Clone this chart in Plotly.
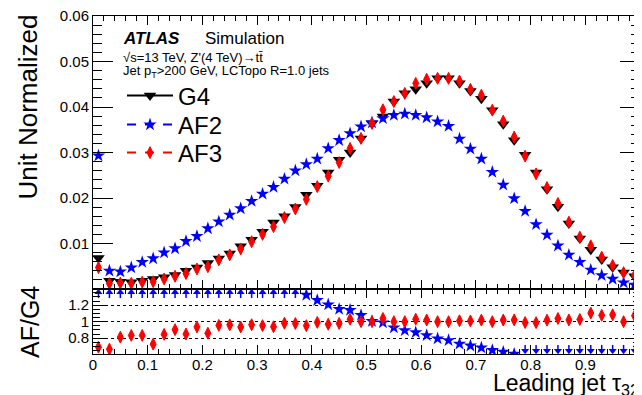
import numpy as np
import plotly.graph_objects as go

# ---------------- data ----------------
TAU32 = [0.01, 0.03, 0.05, 0.07, 0.09, 0.11, 0.13, 0.15, 0.17, 0.19,
         0.21, 0.23, 0.25, 0.27, 0.29, 0.31, 0.33, 0.35, 0.37, 0.39,
         0.41, 0.43, 0.45, 0.47, 0.49, 0.51, 0.53, 0.55, 0.57, 0.59,
         0.61, 0.63, 0.65, 0.67, 0.69, 0.71, 0.73, 0.75, 0.77, 0.79,
         0.81, 0.83, 0.85, 0.87, 0.89, 0.91, 0.93, 0.95, 0.97, 0.99]

G4 = [0.0068, 0.0018, 0.0016, 0.0015, 0.0018, 0.0022, 0.0026, 0.0031, 0.0040, 0.0047,
      0.0057, 0.0067, 0.0078, 0.0094, 0.0108, 0.0126, 0.0146, 0.0160, 0.0180, 0.0207,
      0.0227, 0.0256, 0.0284, 0.0300, 0.0331, 0.0364, 0.0379, 0.0412, 0.0430, 0.0439,
      0.0452, 0.0463, 0.0463, 0.0452, 0.0435, 0.0418, 0.0393, 0.0362, 0.0327, 0.0295,
      0.0256, 0.0219, 0.0181, 0.0144, 0.0111, 0.0086, 0.0065, 0.0048, 0.0036, 0.0028]

AF2 = [0.0293, 0.0040, 0.0038, 0.0047, 0.0059, 0.0067, 0.0080, 0.0089, 0.0105, 0.0116,
       0.0133, 0.0148, 0.0163, 0.0177, 0.0193, 0.0209, 0.0224, 0.0242, 0.0260, 0.0274,
       0.0286, 0.0309, 0.0327, 0.0342, 0.0357, 0.0366, 0.0375, 0.0382, 0.0385, 0.0382,
       0.0377, 0.0368, 0.0358, 0.0330, 0.0308, 0.0286, 0.0257, 0.0229, 0.0199, 0.0171,
       0.0142, 0.0119, 0.0095, 0.0075, 0.0059, 0.0042, 0.0030, 0.0022, 0.0014, 0.0009]

AF3 = [0.0047, 0.0012, 0.0013, 0.00125, 0.0015, 0.0016, 0.0022, 0.0028, 0.0034, 0.0044,
       0.0049, 0.0064, 0.0075, 0.0088, 0.0104, 0.0120, 0.0137, 0.0157, 0.0176, 0.0197,
       0.0225, 0.0248, 0.0278, 0.0309, 0.0331, 0.0364, 0.0394, 0.0412, 0.0430, 0.0452,
       0.0461, 0.0463, 0.0463, 0.0457, 0.0439, 0.0426, 0.0393, 0.0369, 0.0334, 0.0292,
       0.0253, 0.0223, 0.0188, 0.0147, 0.0114, 0.0095, 0.0070, 0.0052, 0.0036, 0.0030]

Y_TICKS = [0.01, 0.02, 0.03, 0.04, 0.05, 0.06]
Y_TICK_TEXT = ["0.01", "0.02", "0.03", "0.04", "0.05", "0.06"]
R_TICKS = [0.8, 1.0, 1.2]
R_TICK_TEXT = ["0.8", "1", "1.2"]
X_TICKS = [0, 0.1, 0.2, 0.3, 0.4, 0.5, 0.6, 0.7, 0.8, 0.9, 1.0]
X_TICK_TEXT = ["0", "0.1", "0.2", "0.3", "0.4", "0.5", "0.6", "0.7", "0.8", "0.9", "1"]

# ---------------- geometry helpers ----------------
# The page body has an 8px margin, so the figure is drawn 8px right/down.
OFF = 8
W, H = 642 - OFF, 395 - OFF
L, T = 93 - OFF, 16 - OFF           # plot area left/top in screen px 93 / 16
R = W - (640 - OFF)                  # plot area right at screen px 640
B = H - (354 - OFF)                  # plot area bottom at screen px 354
PW, PH = W - L - R, H - T - B


def px(xs):
    return (xs - OFF - L) / PW


def py(ys):
    return (H - B - (ys - OFF)) / PH


SPLIT = py(289)
R_RANGE = [0.608, 1.396]
FONT = "Liberation Sans, Arial, Helvetica, sans-serif"

x = np.array(TAU32)
g4 = np.array(G4)
af2 = np.array(AF2)
af3 = np.array(AF3)
r2 = af2 / g4
r3 = af3 / g4

BLACK, BLUE, RED = "#000000", "#0000ff", "#ff0000"
MK_G4 = dict(symbol="triangle-down", size=11, color=BLACK)
MK_AF2 = dict(symbol="star", size=10, color=BLUE)
MK_AF3 = dict(symbol="diamond-tall", size=8.5, color=RED, line=dict(color=RED, width=1))

fig = go.Figure()

# upper panel
fig.add_trace(go.Scatter(x=x, y=g4, mode="markers", showlegend=False, marker=MK_G4,
                         xaxis="x", yaxis="y"))
fig.add_trace(go.Scatter(x=x, y=af2, mode="markers", showlegend=False, marker=MK_AF2,
                         xaxis="x", yaxis="y"))
fig.add_trace(go.Scatter(x=x, y=af3, mode="markers", showlegend=False, marker=MK_AF3,
                         xaxis="x", yaxis="y"))

# legend entries (one legend each, to place them like the reference)
fig.add_trace(go.Scatter(x=[None], y=[None], mode="lines+markers", name="G4",
                         line=dict(color=BLACK, width=2), legend="legend", marker=MK_G4))
fig.add_trace(go.Scatter(x=[None], y=[None], mode="lines+markers", name="AF2",
                         line=dict(color=BLUE, width=2, dash="dash"), legend="legend2",
                         marker=MK_AF2))
fig.add_trace(go.Scatter(x=[None], y=[None], mode="lines+markers", name="AF3",
                         line=dict(color=RED, width=2, dash="dash"), legend="legend3",
                         marker=MK_AF3))

# ratio panel
top_arrow_y = R_RANGE[1] - 0.04
bot_arrow_y = R_RANGE[0] + 0.04
inr = (r2 <= R_RANGE[1]) & (r2 >= R_RANGE[0])
hi = r2 > R_RANGE[1]
lo = r2 < R_RANGE[0]
fig.add_trace(go.Scatter(x=x[inr], y=r2[inr], mode="markers", showlegend=False,
                         marker=MK_AF2, xaxis="x2", yaxis="y2"))
fig.add_trace(go.Scatter(x=x[hi], y=np.full(hi.sum(), top_arrow_y), mode="markers",
                         showlegend=False,
                         marker=dict(symbol="triangle-up", size=7, color=BLUE),
                         error_y=dict(type="constant", symmetric=False, value=0,
                                      valueminus=0.07, width=0, thickness=1.5, color=BLUE),
                         xaxis="x2", yaxis="y2"))
fig.add_trace(go.Scatter(x=x[lo], y=np.full(lo.sum(), bot_arrow_y), mode="markers",
                         showlegend=False,
                         marker=dict(symbol="triangle-down", size=7, color=BLUE),
                         error_y=dict(type="constant", symmetric=False, value=0.07,
                                      valueminus=0, width=0, thickness=1.5, color=BLUE),
                         xaxis="x2", yaxis="y2"))
fig.add_trace(go.Scatter(x=x, y=r3, mode="markers", showlegend=False,
                         marker=MK_AF3, xaxis="x2", yaxis="y2"))

axis_common = dict(showline=True, linecolor="black", linewidth=1, mirror="allticks",
                   ticks="inside", tickcolor="black", zeroline=False, showgrid=False,
                   automargin=False, ticklabeloverflow="allow",
                   tickfont=dict(family=FONT, size=15, color="black"))

legend_common = dict(xanchor="left", yanchor="middle", bgcolor="rgba(0,0,0,0)",
                     font=dict(family=FONT, size=24, color="black"), itemwidth=46)

fig.update_layout(
    width=W, height=H,
    margin=dict(l=L, r=R, t=T, b=B, autoexpand=False),
    paper_bgcolor="white", plot_bgcolor="white",
    font=dict(family=FONT, color="black"),
    xaxis=dict(domain=[0, 1], anchor="y", range=[0, 1], matches="x2",
               showticklabels=False, tickvals=X_TICKS, ticklen=9,
               minor=dict(ticks="inside", dtick=0.02, tick0=0, ticklen=5, tickcolor="black"),
               **axis_common),
    yaxis=dict(domain=[SPLIT, 1], anchor="x", range=[0, 0.06],
               tickvals=Y_TICKS, ticktext=Y_TICK_TEXT, ticklen=20,
               minor=dict(ticks="inside", dtick=0.002, tick0=0, ticklen=9, tickcolor="black"),
               **axis_common),
    xaxis2=dict(domain=[0, 1], anchor="y2", range=[0, 1],
                tickvals=X_TICKS, ticktext=X_TICK_TEXT, ticklen=9,
                ticklabelstandoff=-3,
                minor=dict(ticks="inside", dtick=0.02, tick0=0, ticklen=5, tickcolor="black"),
                **axis_common),
    yaxis2=dict(domain=[0, SPLIT], anchor="x2", range=R_RANGE,
                tickvals=R_TICKS, ticktext=R_TICK_TEXT, ticklen=15,
                minor=dict(ticks="inside", tickmode="linear", dtick=0.05, tick0=0,
                           ticklen=7, tickcolor="black"),
                **{**axis_common, "showgrid": True},
                gridcolor="black", griddash="dot", gridwidth=1),
    legend=dict(x=px(122), y=py(96), **legend_common),
    legend2=dict(x=px(122), y=py(125), **legend_common),
    legend3=dict(x=px(122), y=py(153), **legend_common),
    showlegend=True,
)

ann = [
    dict(text="<b><i>ATLAS</i></b>", x=px(121), y=py(38), size=17),
    dict(text="Simulation", x=px(203), y=py(38), size=17),
    dict(text="√s=13 TeV, Z'(4 TeV)→tt\u0304", x=px(121), y=py(58), size=13),
    dict(text="Jet p<sub>T</sub>&gt;200 GeV, LCTopo R=1.0 jets", x=px(121), y=py(72), size=13),
]
for a in ann:
    fig.add_annotation(text=a["text"], x=a["x"], y=a["y"], xref="paper", yref="paper",
                       xanchor="left", yanchor="middle", showarrow=False,
                       font=dict(family=FONT, size=a["size"], color="black"))

fig.add_annotation(text="Unit Normalized", textangle=-90, x=px(27), y=py(13),
                   xref="paper", yref="paper", xanchor="center", yanchor="top",
                   showarrow=False, font=dict(family=FONT, size=26, color="black"))
fig.add_annotation(text="AF/G4", textangle=-90, x=px(30), y=py(322),
                   xref="paper", yref="paper", xanchor="center", yanchor="middle",
                   showarrow=False, font=dict(family=FONT, size=25, color="black"))
fig.add_annotation(text="Leading jet τ<sub>32</sub>", x=px(641), y=py(385),
                   xref="paper", yref="paper", xanchor="right", yanchor="middle",
                   showarrow=False, font=dict(family=FONT, size=23, color="black"))

fig.write_html("out.html")
